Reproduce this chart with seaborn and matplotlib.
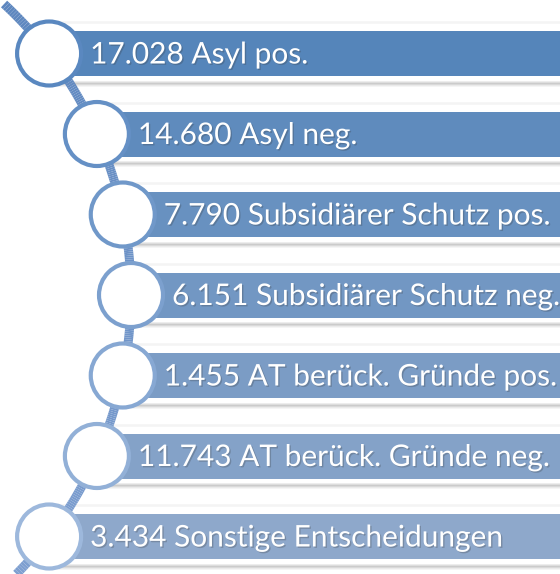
import numpy as np
import matplotlib.pyplot as plt
import seaborn as sns
import matplotlib.patheffects as pe
from matplotlib.patches import Circle
from matplotlib.collections import LineCollection
from matplotlib.colors import to_rgb

# Werte
counts = ["17.028", "14.680", "7.790", "6.151", "1.455", "11.743", "3.434"]
labels = [
    "Asyl pos.",
    "Asyl neg.",
    "Subsidiärer Schutz pos.",
    "Subsidiärer Schutz neg.",
    "AT berück. Gründe pos.",
    "AT berück. Gründe neg.",
    "Sonstige Entscheidungen",
]

sns.set_theme(style="white")
plt.rcParams['font.family'] = ['Lato', 'DejaVu Sans']

W, H = 560, 574
fig = plt.figure(figsize=(W / 100, H / 100), dpi=100)
ax = fig.add_axes([0, 0, 1, 1])
ax.set_xlim(0, W)
ax.set_ylim(H, 0)
ax.axis('off')

n = len(labels)
step = 80.5
row_y = 53.5 + step * np.arange(n)
mid = row_y[n // 2]
R_arc = 397.0
x_peak = 131.0


def arc_x(y):
    return x_peak - (R_arc - np.sqrt(R_arc ** 2 - (y - mid) ** 2))


def blend(c1, c2, t):
    a, b = np.array(to_rgb(c1)), np.array(to_rgb(c2))
    return tuple(a + (b - a) * t)


cx = arc_x(row_y)
t = np.linspace(0, 1, n)
bar_cols = [blend('#5585BA', '#8EA8CB', v) for v in t]
ring_cols = [blend('#5A88C0', '#9DB8DC', v) for v in t]

# connector curve
ys = np.linspace(4, H, 300)
xs = arc_x(ys)
pts = np.column_stack([xs, ys]).reshape(-1, 1, 2)
segs = np.concatenate([pts[:-1], pts[1:]], axis=1)
seg_cols = [blend('#5E87BF', '#7E9FD0', v) for v in np.linspace(0, 1, len(segs))]
ax.add_collection(LineCollection(segs, colors=seg_cols, linewidths=6.5, capstyle='butt', zorder=1))

bar_h = 45
for i in range(n):
    y = row_y[i]
    # light band above, shadow below
    ax.barh(y - bar_h / 2 - 9, W, height=4, left=cx[i], color='#f4f4f4', zorder=0.5)
    for k, a in enumerate([0.10, 0.20, 0.30, 0.22, 0.12, 0.06]):
        ax.barh(y + bar_h / 2 + 5 + k, W, height=1, left=cx[i] + 10, color='#555555',
                alpha=a, zorder=0.5, linewidth=0)
    ax.barh(y, W, height=bar_h, left=cx[i], color=bar_cols[i], zorder=2, linewidth=0)
    ax.add_patch(Circle((cx[i], y), 32, facecolor='white', edgecolor=ring_cols[i],
                        linewidth=3.0, zorder=3))
    ax.text(cx[i] + 41, y + 1, f"{counts[i]} {labels[i]}", color='white', fontsize=21.5,
            va='center', ha='left', zorder=4,
            path_effects=[pe.withSimplePatchShadow(offset=(1, -1), shadow_rgbFace='#333333', alpha=0.25)])

fig.savefig('out.png', dpi=100)
